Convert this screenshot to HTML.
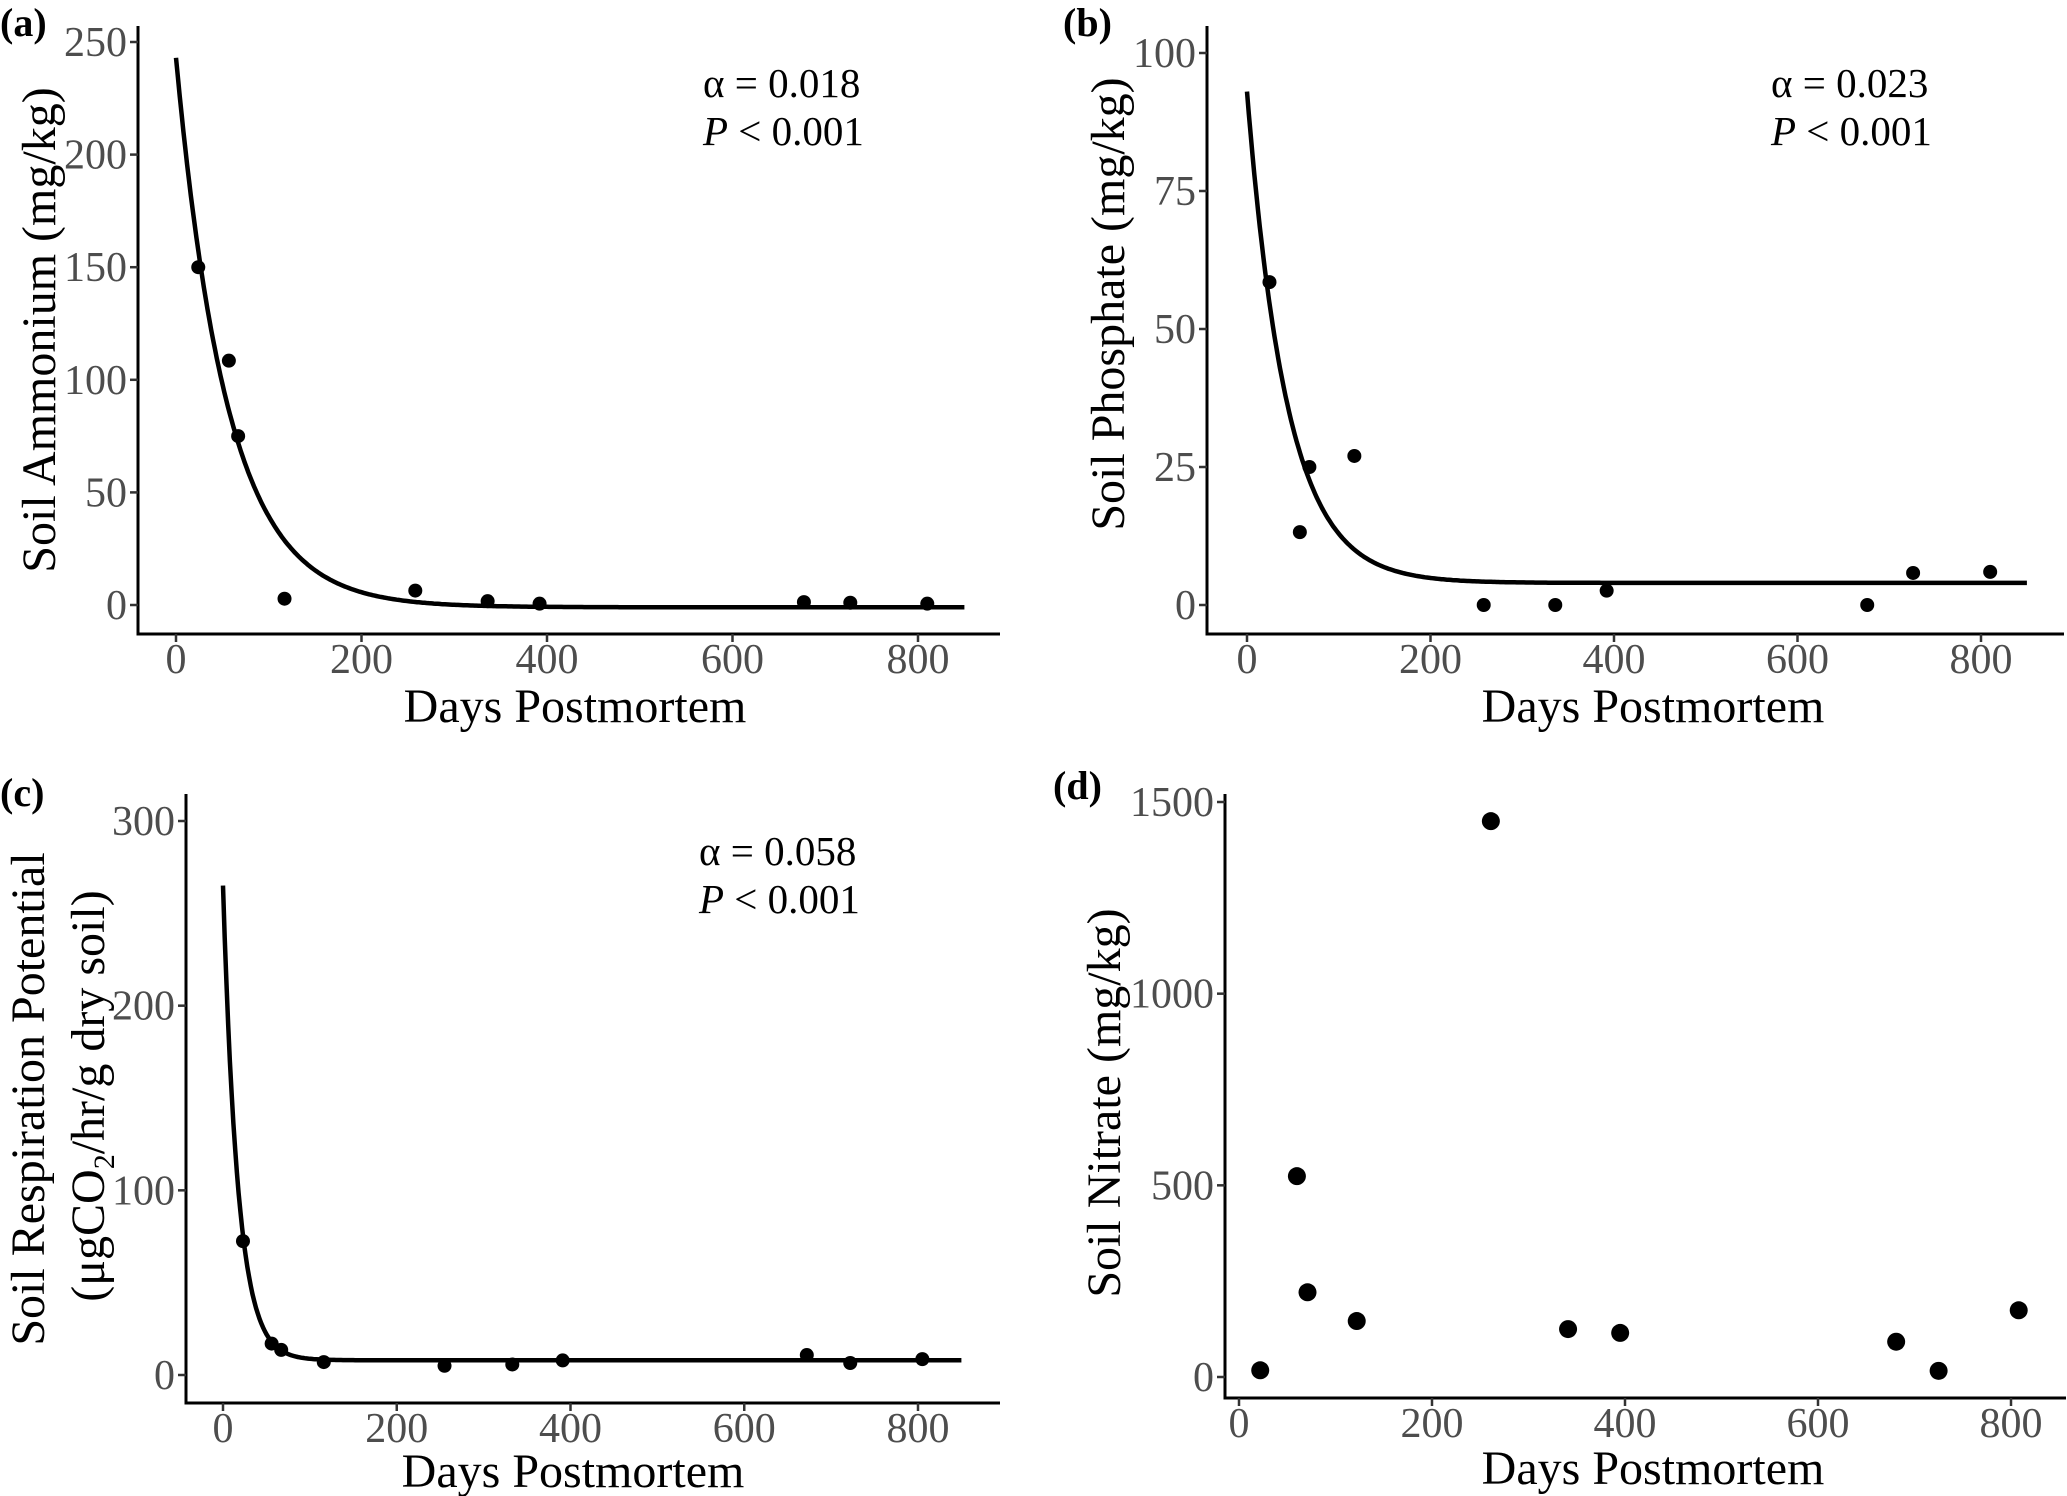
<!DOCTYPE html>
<html><head><meta charset="utf-8"><style>
body{margin:0;background:#fff}
svg{display:block;font-family:"Liberation Serif","Times New Roman",serif}
.tk{fill:#4d4d4d;font-size:42px}
.at{fill:#000;font-size:48px}
.an{fill:#000;font-size:41px}
.pl{fill:#000;font-size:40px;font-weight:bold}
</style></head><body>
<svg id="fig" width="2067" height="1496" viewBox="0 0 2067 1496" xmlns="http://www.w3.org/2000/svg"></svg>
<script>
// Panel (a) Soil Ammonium
const daysA = [24,57,67,117,258,336,392,677,727,810];
const ammonium = [150,108.5,75,2.8,6.4,1.7,0.6,1.3,1,0.6];
const fitAmmonium = [244,0.018,-1]; // A, rate, c
// Panel (b) Soil Phosphate
const daysB = [24.5,57.6,68,117,258,336,392,676,726,810];
const phosphate = [58.5,13.2,25,27,0,0,2.6,0,5.8,6];
const fitPhosphate = [89,0.023,4];
// Panel (c) Soil Respiration
const daysC = [23,56,67,116,255,333,391,672,722,805];
const respiration = [72.5,17,13.6,7,5,5.7,7.9,10.8,6.5,8.6];
const fitRespiration = [257,0.058,8];
// Panel (d) Soil Nitrate
const daysD = [22,60,71,122,261,341,395,681,725,808];
const nitrate = [17.5,524,221,146,1450,125,115,92,16,174];
// Tick labels
const xTicks = [0,200,400,600,800];
const yTicksA = [0,50,100,150,200,250];
const yTicksB = [0,25,50,75,100];
const yTicksC = [0,100,200,300];
const yTicksD = [0,500,1000,1500];

const NS="http://www.w3.org/2000/svg";
const svg=document.getElementById('fig');
function mk(tag,attrs,parent,text){const e=document.createElementNS(NS,tag);for(const k in attrs)e.setAttribute(k,attrs[k]);if(text!==undefined)e.textContent=text;(parent||svg).appendChild(e);return e;}

function panel(cfg){
  const g=mk('g',{});
  
  
  const sx=v=>cfg.x0+(v-0)*(cfg.x800-cfg.x0)/800;
  const sy=v=>cfg.y0+(v-cfg.yv0)*(cfg.yTop-cfg.y0)/(cfg.yvTop-cfg.yv0);
  const ya=mk('line',{x1:cfg.ax,y1:cfg.axTop,x2:cfg.ax,y2:cfg.axY,stroke:'#000','stroke-width':3},g);
  
  const xa=mk('line',{x1:cfg.ax-1.5,y1:cfg.axY,x2:cfg.axRight,y2:cfg.axY,stroke:'#000','stroke-width':3},g);
  
  cfg.yTicks.forEach(v=>{
    const y=sy(v);
    const t=mk('line',{x1:cfg.ax-8,y1:y,x2:cfg.ax,y2:y,stroke:'#333','stroke-width':2.5},g);
    
    const l=mk('text',{x:cfg.ax-11,y:y+14,'text-anchor':'end',class:'tk'},g,String(v));
    
  });
  xTicks.forEach(v=>{
    const x=sx(v);
    const t=mk('line',{x1:x,y1:cfg.axY,x2:x,y2:cfg.axY+8,stroke:'#333','stroke-width':2.5},g);
    
    const l=mk('text',{x:x,y:cfg.axY+39,'text-anchor':'middle',class:'tk'},g,String(v));
    
  });
  const xt=mk('text',{x:cfg.xtX,y:cfg.axY+cfg.xtOff,'text-anchor':'middle',class:'at'},g,'Days Postmortem');
  
  cfg.yTitle(g);
  const pl=mk('text',{x:cfg.plX,y:cfg.plY,class:'pl'},g,'('+cfg.id+')');
  
  if(cfg.fit){
    const [A,r,c]=cfg.fit;let d='';
    for(let t=0;t<=850;t+=2){const v=A*Math.exp(-r*t)+c;d+=(t?'L':'M')+sx(t).toFixed(1)+','+sy(v).toFixed(1);}
    const p=mk('path',{d:d,fill:'none',stroke:'#000','stroke-width':4.5},g);
    
    const a1=mk('text',{x:cfg.anX,y:cfg.anY,class:'an'},g,'α = '+cfg.alpha);
    
    const a2=mk('text',{x:cfg.anX,y:cfg.anY+48,class:'an'},g);
    
    mk('tspan',{'font-style':'italic'},a2,'P');mk('tspan',{},a2,' < 0.001');
  }
  cfg.xs.forEach((xv,i)=>{
    const c=mk('circle',{cx:sx(xv),cy:sy(cfg.ys[i]),r:cfg.r,fill:'#000'},g);
    
  });
}
function rotTitle(g,x,y,txt){
  const t=mk('text',{x:0,y:0,transform:`translate(${x},${y}) rotate(-90)`,'text-anchor':'middle',class:'at'},g,txt);
  
}
panel({id:'a',x0:176,x800:918,yv0:0,y0:605,yvTop:250,yTop:42,ax:138,axTop:26,axY:634,axRight:1000,
  yTicks:yTicksA,xtX:575,xtOff:88,plX:0,plY:36,fit:fitAmmonium,alpha:'0.018',anX:703,anY:97,xs:daysA,ys:ammonium,r:7,
  yTitle:g=>rotTitle(g,55,330,'Soil Ammonium (mg/kg)')});
panel({id:'b',x0:1247,x800:1981,yv0:0,y0:605,yvTop:100,yTop:53,ax:1207,axTop:26,axY:634,axRight:2064,
  yTicks:yTicksB,xtX:1653,xtOff:88,plX:1063,plY:36,fit:fitPhosphate,alpha:'0.023',anX:1771,anY:97,xs:daysB,ys:phosphate,r:7,
  yTitle:g=>rotTitle(g,1124,304,'Soil Phosphate (mg/kg)')});
panel({id:'c',x0:223,x800:918,yv0:0,y0:1375,yvTop:300,yTop:821,ax:186,axTop:794,axY:1403,axRight:1000,
  yTicks:yTicksC,xtX:573,xtOff:84,plX:0,plY:806,fit:fitRespiration,alpha:'0.058',anX:699,anY:865,xs:daysC,ys:respiration,r:7,
  yTitle:g=>{
    rotTitle(g,44,1099,'Soil Respiration Potential');
    const t=mk('text',{x:0,y:0,transform:'translate(104,1096) rotate(-90)','text-anchor':'middle',class:'at'},g);
    
    mk('tspan',{},t,'(μgCO');mk('tspan',{'font-size':'30px',dy:10},t,'2');mk('tspan',{dy:-10},t,'/hr/g dry soil)');
  }});
panel({id:'d',x0:1239,x800:2011,yv0:0,y0:1377,yvTop:1500,yTop:802,ax:1225,axTop:794,axY:1398,axRight:2066,
  yTicks:yTicksD,xtX:1653,xtOff:86,plX:1053,plY:799,xs:daysD,ys:nitrate,r:9,
  yTitle:g=>rotTitle(g,1120,1103,'Soil Nitrate (mg/kg)')});
</script>
</body></html>
